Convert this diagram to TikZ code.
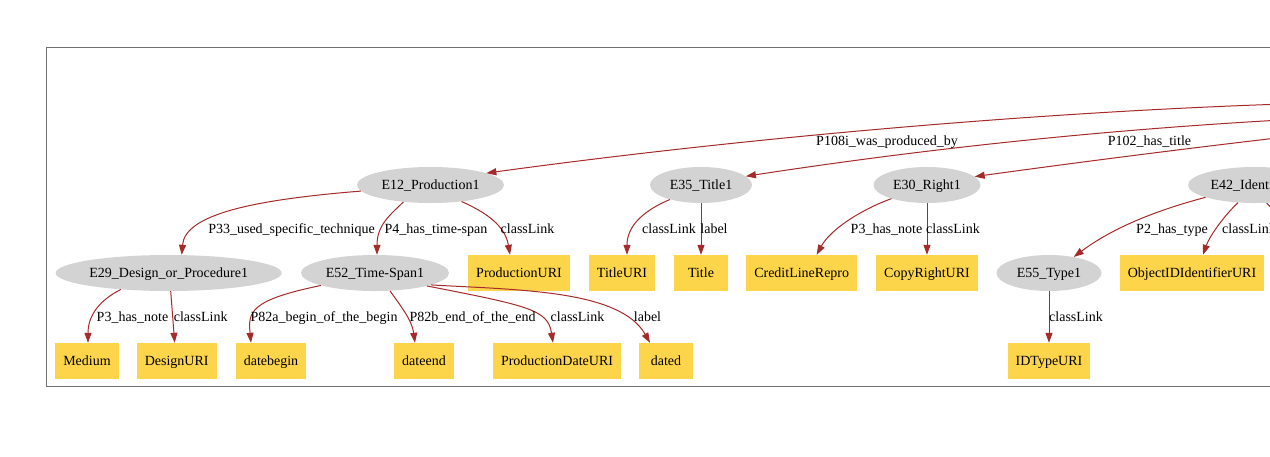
\documentclass[tikz,border=0pt]{standalone}
\usepackage{fontspec}
\setmainfont{Liberation Serif}
\usetikzlibrary{arrows.meta,shapes.geometric}
\definecolor{edgec}{HTML}{A52A2A}
\definecolor{boxc}{HTML}{FDD54A}
\definecolor{ellc}{HTML}{D3D3D3}
\definecolor{framec}{HTML}{707070}
\begin{document}
\begin{tikzpicture}[x=1pt,y=-1pt,
  every node/.style={font=\fontsize{14}{16}\selectfont, text height=8.6pt, text depth=0pt, inner sep=0pt},
  ent/.style={ellipse, fill=ellc, minimum height=36pt},
  lit/.style={rectangle, fill=boxc, minimum height=36pt, minimum width=54pt, inner xsep=8pt},
  rel/.style={draw=edgec, line width=1pt, -{Triangle[length=10pt,width=7pt]}}]
\useasboundingbox (0,0) rectangle (1270,456);
\clip (0,0) rectangle (1270,456);
\fill[white] (0,0) rectangle (1270,456);
\draw[framec, line width=1.5pt] (1300,47.7) -- (46.7,47.7) -- (46.7,386.7) -- (1300,386.7);

% entity nodes
\node[ent, minimum width=147pt] (e12) at (430.5,185) {E12\_Production1};
\node[ent, minimum width=102pt] (e35) at (701,185) {E35\_Title1};
\node[ent, minimum width=107pt] (e30) at (927,185) {E30\_Right1};
\node[ent, minimum width=134pt] (e42) at (1255,185) {E42\_Identifier1};
\node[ent, minimum width=226pt] (e29) at (168.7,273) {E29\_Design\_or\_Procedure1};
\node[ent, minimum width=148pt] (e52) at (375,273) {E52\_Time-Span1};
\node[ent, minimum width=105pt] (e55) at (1049,273) {E55\_Type1};
% literal nodes
\node[lit] (puri) at (519,273) {ProductionURI};
\node[lit] (turi) at (622,273) {TitleURI};
\node[lit] (title) at (701,273) {Title};
\node[lit] (credit) at (801.7,273) {CreditLineRepro};
\node[lit] (copy) at (927,273) {CopyRightURI};
\node[lit] (oid) at (1192,273) {ObjectIDIdentifierURI};
\node[lit] (medium) at (87,361) {Medium};
\node[lit] (duri) at (176.7,361) {DesignURI};
\node[lit] (dbeg) at (271,361) {datebegin};
\node[lit] (dend) at (424,361) {dateend};
\node[lit] (pduri) at (557,361) {ProductionDateURI};
\node[lit] (dated) at (666,361) {dated};
\node[lit] (idt) at (1049,361) {IDTypeURI};

% off-picture ends
\coordinate (o1) at (1300,103.5);
\coordinate (o2) at (1300,119);
\coordinate (o3) at (1300,135.3);
\coordinate (o4) at (1290,228);

% edges
\draw[rel] (o1) .. controls (1050,111) and (750,137) .. (e12.12);
\draw[rel] (o2) .. controls (1115,128.7) and (931,147.8) .. (e35.11);
\draw[rel] (o3) .. controls (1194,147.5) and (1088,161) .. (e30.10);

\draw[rel] (e12.185) .. controls (250,200) and (185,215) .. ([xshift=13pt]e29.north);
\draw[rel] (e12.212) .. controls (390,215) and (377,225) .. ([xshift=2pt]e52.north);
\draw[rel] (e12.332) .. controls (485,212) and (505,225) .. ([xshift=-9pt]puri.north);

\draw[rel] (e35.205) .. controls (645,210) and (627,225) .. ([xshift=5pt]turi.north);
\draw[rel] (e35.south) -- (title.north);

\draw[rel] (e30.201) .. controls (860,210) and (830,230) .. ([xshift=15pt]credit.north);
\draw[rel] (e30.south) -- (copy.north);

\draw[rel] (e42.194) .. controls (1150,212) and (1110,230) .. (e55.33);
\draw[rel] (e42.226) .. controls (1225,215) and (1210,235) .. ([xshift=11pt]oid.north);
\draw[rel] (e42.303) .. controls (1275,212) and (1285,220) .. (o4);

\draw[rel] (e29.199) .. controls (100,300) and (88,315) .. ([xshift=1pt]medium.north);
\draw[rel] ([xshift=2pt]e29.south) -- ([xshift=-2pt]duri.north);

\draw[rel] (e52.193) .. controls (250,300) and (248,312) .. ([xshift=-20pt]dbeg.north);
\draw[rel] (e52.310) .. controls (400,305) and (412,320) .. ([xshift=-9pt]dend.north);
\draw[rel] (e52.346) .. controls (530,306) and (548,310) .. ([xshift=-4pt]pduri.north);
\draw[rel] (e52.348) .. controls (520,290) and (620,290) .. ([xshift=-16pt]dated.north);

\draw[rel] (e55.south) -- (idt.north);

% edge labels
\node (l1) at (887,140.7) {P108i\_was\_produced\_by};
\node (l2) at (1149.5,140.7) {P102\_has\_title};
\node (l3) at (291.5,228.7) {P33\_used\_specific\_technique};
\node (l4) at (436,228.7) {P4\_has\_time-span};
\node (l5) at (527.5,228.7) {classLink};
\node (l6) at (669,228.7) {classLink};
\node (l7) at (714,228.7) {label};
\node (l8) at (886.5,228.7) {P3\_has\_note};
\node (l9) at (953,228.7) {classLink};
\node (l10) at (1172,228.7) {P2\_has\_type};
\node (l11) at (1249,228.7) {classLink};
\node (l12) at (132.5,317.4) {P3\_has\_note};
\node (l13) at (200.7,317.4) {classLink};
\node (l14) at (324,317.4) {P82a\_begin\_of\_the\_begin};
\node (l15) at (472.5,317.4) {P82b\_end\_of\_the\_end};
\node (l16) at (577.5,317.4) {classLink};
\node (l17) at (647.5,317.4) {label};
\node (l18) at (1076,317.4) {classLink};
\end{tikzpicture}
\end{document}
